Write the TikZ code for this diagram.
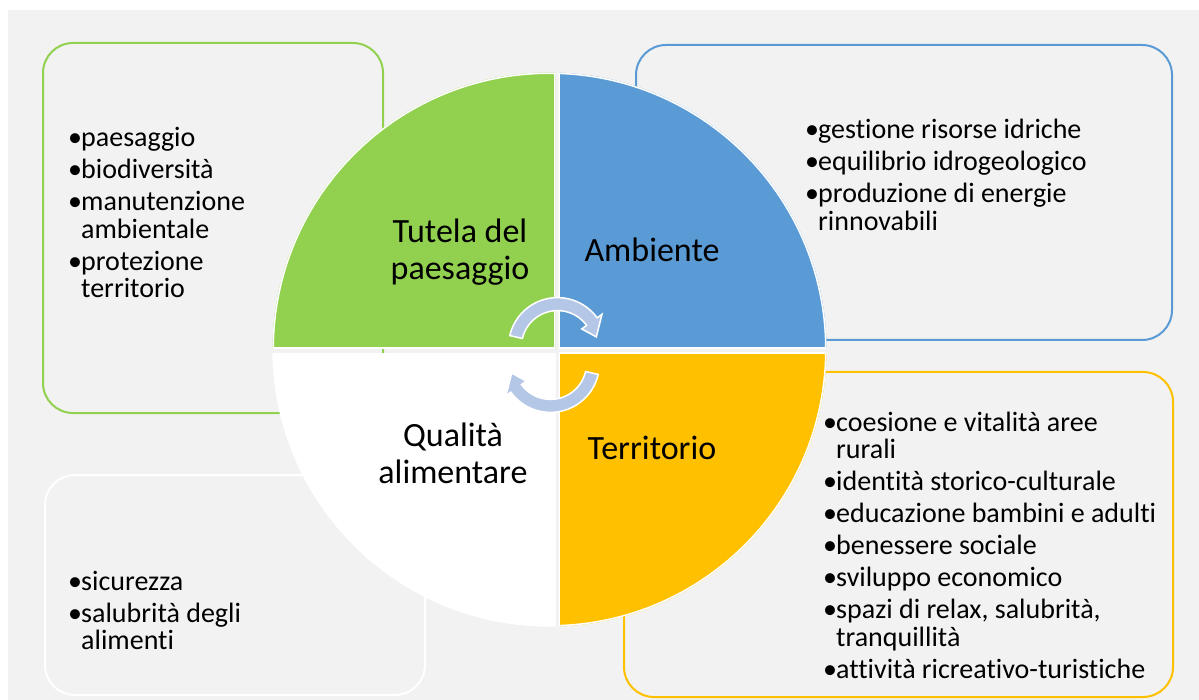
\documentclass[tikz,border=0pt]{standalone}
\usepackage{fontspec}
\setmainfont{Carlito}[Ligatures=NoCommon]
\usetikzlibrary{positioning}

\definecolor{bggrey}{HTML}{F2F2F2}
\definecolor{leafgreen}{HTML}{92D050}
\definecolor{skyblue}{HTML}{5B9BD5}
\definecolor{gold}{HTML}{FFC000}
\definecolor{arrowblue}{HTML}{B4C7E7}

% one bullet point, wrapped lines hang under the text
\newcommand\bul{\hangindent=13pt\hangafter=1\noindent\hbox to 13pt{\textbullet\hfil}}

\begin{document}
\begin{tikzpicture}[x=1pt, y=-1pt,
    box/.style={line width=2pt, rounded corners=30pt},
    title/.style={align=center, inner sep=0pt, anchor=base,
        font=\fontsize{34}{37}\selectfont},
    list/.style={align=flush left, inner sep=0pt, anchor=base west, text width=#1,
        font=\fontsize{28}{27.5}\selectfont\setlength\parskip{4.5pt}},
    cyclearrow/.pic={
        \filldraw[fill=arrowblue, draw=white, line width=1.5pt]
            (167:49pt) arc[start angle=167, end angle=36, radius=49pt]
            -- (36:55pt) -- (14:40pt) -- (36:30pt) -- (36:36pt)
            arc[start angle=36, end angle=167, radius=36pt] -- cycle;
    }]
    \fill[white] (0,0) rectangle (1199,700);
    \useasboundingbox (0,0) rectangle (1199,700);
    \fill[bggrey] (8,10) rectangle (1199,700);

    % frames behind the circle
    \draw[box, leafgreen] (43,43) rectangle (383,413);
    \draw[box, skyblue] (636,45) rectangle (1172,340);
    \draw[box, gold] (624,372) rectangle (1173,697);
    \draw[box, white] (45,475) rectangle (425,695);

    % the four quarters
    \coordinate (c) at (549.5,349.5);
    \foreach \qcol/\xa/\ya/\xb/\yb in {leafgreen/260/60/555.5/349,
            skyblue/558.5/60/840/349, white/260/354/555.5/640,
            gold/558.5/353/840/640}{
        \begin{scope}
            \clip (c) circle (277pt);
            \clip (\xa,\ya) rectangle (\xb,\yb);
            \fill[\qcol] (\xa,\ya) rectangle (\xb,\yb);
            \draw[white, line width=3pt] (\xa,\ya) rectangle (\xb,\yb);
            \draw[white, line width=3pt] (c) circle (277pt);
        \end{scope}
    }

    \pic at (557.5,346.6) {cyclearrow};
    \pic[rotate=180] at (550.5,363.4) {cyclearrow};

    \node[title] (tutela) at (460,280) {Tutela del\\paesaggio};
    \node[title] (ambiente) at (652,262) {Ambiente};
    \node[title] (qualita) at (453,483) {Qualità\\alimentare};
    \node[title] (territorio) at (652,459) {Territorio};

    \node[list=300pt] (paesaggio) at (68,147) {%
        \bul paesaggio\par
        \bul biodiversità\par
        \bul manutenzione\newline ambientale\par
        \bul protezione\newline territorio\par};
    \node[list=340pt] (risorse) at (805,139) {%
        \bul gestione risorse idriche\par
        \bul equilibrio idrogeologico\par
        \bul produzione di energie\newline rinnovabili\par};
    \node[list=350pt] (rurali) at (823,431) {%
        \bul coesione e vitalità aree\newline rurali\par
        \bul identità storico-culturale\par
        \bul educazione bambini e adulti\par
        \bul benessere sociale\par
        \bul sviluppo economico\par
        \bul spazi di relax, salubrità,\newline tranquillità\par
        \bul attività ricreativo-turistiche\par};
    \node[list=300pt] (alimenti) at (68,590) {%
        \bul sicurezza\par
        \bul salubrità degli\newline alimenti\par};
\end{tikzpicture}
\end{document}
